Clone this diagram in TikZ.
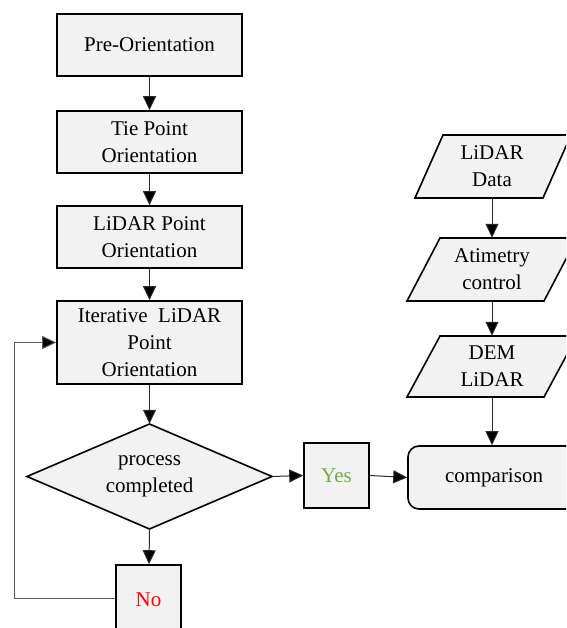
\documentclass[tikz,border=0pt]{standalone}
\usepackage{fontspec}
\setmainfont{Liberation Serif}
\usetikzlibrary{arrows.meta}
\definecolor{boxfill}{HTML}{F2F2F2}
\definecolor{yesgreen}{HTML}{70AD47}
\definecolor{nored}{HTML}{FF0000}
\definecolor{linegray}{HTML}{2A2A2A}
\definecolor{loopgray}{HTML}{595959}
\tikzset{
  box/.style={draw=black, line width=1.6pt, fill=boxfill},
  lbl/.style={font=\fontsize{21}{27}\selectfont, align=center, inner sep=0pt},
  rbox/.style={box, lbl, minimum width=185, minimum height=62},
  tip/.style={-{Triangle[width=13pt,length=14pt,fill=black]}},
  conn/.style={draw=linegray, line width=1pt, tip},
  loopconn/.style={draw=loopgray, line width=1pt, tip},
}
\begin{document}
\begin{tikzpicture}[x=1pt,y=-1pt]
\useasboundingbox (0,0) rectangle (566,628);
\clip (0,0) rectangle (566,628);
% left column
\node[rbox] (pre) at (149.5,45) {Pre-Orientation};
\node[rbox] (tie) at (149.5,142) {Tie Point\\Orientation};
\node[rbox] (lpo) at (149.5,237) {LiDAR Point\\Orientation};
\node[rbox, minimum height=83] (iter) at (149.5,342.5) {Iterative \ LiDAR\\Point\\Orientation};
% decision diamond
\draw[box] (27,476.5) -- (149.5,424) -- (272,476.5) -- (149.5,529) -- cycle;
\node[lbl, minimum width=245, minimum height=105] (dec) at (149.5,476.5) {process\\completed};
% yes / no
\node[box, lbl, minimum width=65, minimum height=65, text=yesgreen] (yes) at (336.5,475.5) {Yes};
\node[box, lbl, minimum width=65, minimum height=70, text=nored] (no) at (148.5,600) {No};
% comparison
\node[box, lbl, rounded corners=11pt, minimum width=172, minimum height=63] (cmp) at (494,477.5) {comparison};
% right column parallelograms
\draw[box] (415,198) -- (543,198) -- (571,135) -- (443,135) -- cycle;
\node[lbl, minimum width=100, minimum height=63] (ldata) at (492,166.5) {LiDAR\\Data};
\draw[box] (407,301) -- (544,301) -- (577,238) -- (440,238) -- cycle;
\node[lbl, minimum width=100, minimum height=63] (atim) at (492,269.5) {Atimetry\\control};
\draw[box] (407,397) -- (544,397) -- (577,336) -- (440,336) -- cycle;
\node[lbl, minimum width=100, minimum height=61] (dem) at (492,366.5) {DEM\\LiDAR};
% connectors
\draw[conn] (pre) -- (tie);
\draw[conn] (tie) -- (lpo);
\draw[conn] (lpo) -- (iter);
\draw[conn] (iter) -- (dec.north);
\draw[conn] (dec.south) -- (no);
\draw[conn] (dec.east) -- (yes.west);
\draw[conn] (yes.east) -- (cmp.west);
\draw[conn] (ldata.south) -- (atim.north);
\draw[conn] (atim.south) -- (dem.north);
\draw[conn] (dem.south) -- (dem.south |- cmp.north);
\draw[loopconn] ([yshift=2pt]no.west) -- (14,598) |- (iter.west);
\end{tikzpicture}
\end{document}
